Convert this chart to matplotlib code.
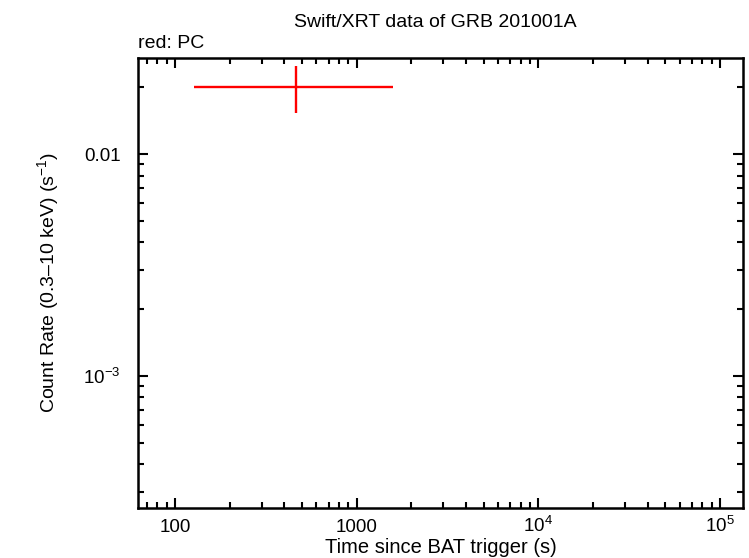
import numpy as np
import matplotlib
matplotlib.use("Agg")
import matplotlib.pyplot as plt
from matplotlib.ticker import FixedLocator, NullFormatter

plt.rcParams['font.family'] = ['Liberation Sans', 'DejaVu Sans']
plt.rcParams['mathtext.fontset'] = 'custom'
plt.rcParams['mathtext.rm'] = 'Liberation Sans'
plt.rcParams['mathtext.it'] = 'Liberation Sans'

# PC data (single bin)
t = [461.0]
t_lo = [127.3]
t_hi = [1578.0]
rate = [0.0200]
rate_lo = [0.01535]
rate_hi = [0.02494]

xticks = [100, 1000, 1e4, 1e5]
xlabels = ["100", "1000", "$10^{4}$", "$10^{5}$"]
yticks = [1e-3, 1e-2]
ylabels = ["$10^{-3}$", "0.01"]

fig = plt.figure(figsize=(7.49, 5.58), dpi=100)
ax = fig.add_axes([0.1836, 0.0901, 0.992 - 0.1836, 0.896 - 0.0901])

t = np.array(t); rate = np.array(rate)
xerr = [t - np.array(t_lo), np.array(t_hi) - t]
yerr = [rate - np.array(rate_lo), np.array(rate_hi) - rate]
ax.errorbar(t, rate, xerr=xerr, yerr=yerr, fmt='none', ecolor='#ff0000',
            elinewidth=1.7, capsize=0)

ax.set_xscale('log')
ax.set_yscale('log')
ax.set_xlim(62.2, 1.339e5)
ax.set_ylim(2.54e-4, 0.0271)

ax.xaxis.set_major_locator(FixedLocator(xticks))
ax.set_xticklabels(xlabels)
ax.yaxis.set_major_locator(FixedLocator(yticks))
ax.set_yticklabels(ylabels)
ax.xaxis.set_minor_formatter(NullFormatter())
ax.yaxis.set_minor_formatter(NullFormatter())

ax.tick_params(which='both', direction='in', top=True, right=True,
               labelsize=13.5, width=1.5, color='black')
ax.tick_params(which='major', length=7)
ax.tick_params(which='minor', length=4)
ax.tick_params(axis='x', which='major', pad=17.3)
ax.tick_params(axis='y', which='major', pad=12)
for lab in ax.get_xticklabels():
    lab.set_va('baseline')
for s in ax.spines.values():
    s.set_linewidth(1.8)

fig.text(440.5 / 749, 1 - 552.7 / 558, "Time since BAT trigger (s)", fontsize=14.5,
         ha='center', va='baseline')
ax.set_ylabel("Count Rate (0.3\u201310 keV) (s$^{\u22121}$)", fontsize=14)
ax.yaxis.set_label_coords(-0.127, 0.5)
fig.text(0.5815, 1 - 26.7 / 558, "Swift/XRT data of GRB 201001A", fontsize=14,
         ha='center', va='baseline')
fig.text(138 / 749, 1 - 48.3 / 558, "red: PC", fontsize=14,
         ha='left', va='baseline')

fig.savefig("out.png", dpi=100)
